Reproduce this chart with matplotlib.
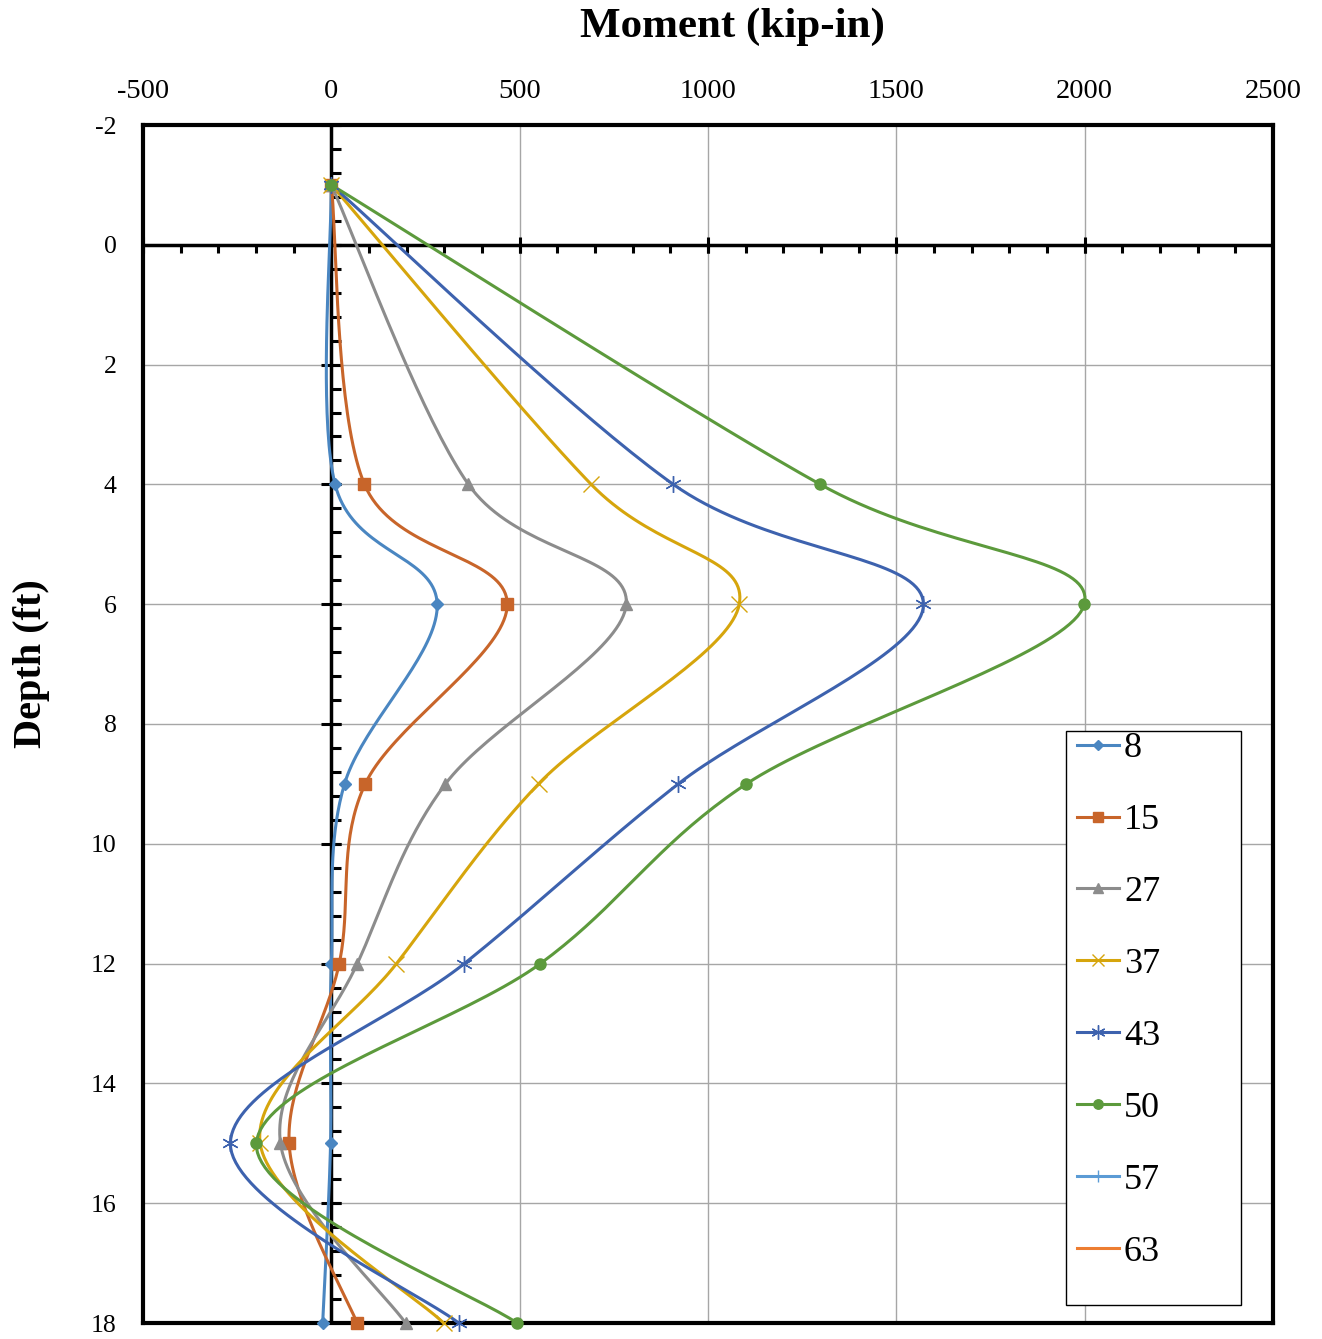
import matplotlib
matplotlib.use("Agg")
import matplotlib.pyplot as plt
from matplotlib.patches import Rectangle
import numpy as np

plt.rcParams['font.family'] = ['Liberation Serif', 'DejaVu Serif']
plt.rcParams['axes.unicode_minus'] = False

# depth (ft) of the data points
depth = [-1, 4, 6, 9, 12, 15, 18]

# moment (kip-in) for each load case
m8 = [0, 10, 281, 35, 0, -2, -23]
m15 = [0, 88, 467, 90, 21, -112, 68]
m27 = [0, 364, 783, 303, 69, -135, 197]
m37 = [0, 690, 1083, 550, 173, -189, 298]
m43 = [0, 908, 1572, 921, 353, -268, 338]
m50 = [0, 1298, 1999, 1102, 555, -199, 493]

labels = ['8', '15', '27', '37', '43', '50', '57', '63']
colors = ['#4A86C1', '#C8652A', '#8C8C8C', '#D6A50C', '#3D62AE', '#5C9A3C',
          '#5B9BD5', '#ED7D31']
markers = ['D', 's', '^', 'x', (6, 2, 0), 'o', '+', None]
msizes = [6, 8, 9, 11, 12, 8, 11, 0]


def smooth(x, y, n=40):
    # excel-like smoothed line: catmull-rom converted to cubic bezier
    p = np.column_stack([x, y]).astype(float)
    ext = np.vstack([p[0], p, p[-1]])
    out = []
    t = np.linspace(0, 1, n)[:, None]
    for i in range(len(p) - 1):
        p0 = ext[i + 1]
        p3 = ext[i + 2]
        c1 = p0 + (ext[i + 2] - ext[i]) / 6.0
        c2 = p3 - (ext[i + 3] - ext[i + 1]) / 6.0
        seg = ((1 - t) ** 3) * p0 + 3 * ((1 - t) ** 2) * t * c1 + 3 * (1 - t) * t ** 2 * c2 + t ** 3 * p3
        out.append(seg)
    s = np.vstack(out)
    return s[:, 0], s[:, 1]


fig = plt.figure(figsize=(13.22, 13.39), dpi=100)
ax = fig.add_axes([143 / 1322, 1 - 1323 / 1339, 1130 / 1322, 1198 / 1339])

ax.set_xlim(-500, 2500)
ax.set_ylim(18, -2)
ax.set_xticks(np.arange(-500, 2501, 500))
ax.set_yticks(np.arange(-2, 19, 2))
ax.xaxis.tick_top()
ax.tick_params(length=0)
ax.tick_params(axis='x', pad=15, labelsize=20.5)
ax.tick_params(axis='y', pad=19, labelsize=18.5)
ax.grid(True, color='#A6A6A6', lw=1.0, zorder=0)
for sp in ax.spines.values():
    sp.set_linewidth(3)
    sp.set_color('black')

# axis lines crossing at zero, with their tick marks
ax.axvline(0, color='black', lw=2.5, zorder=2)
ax.axhline(0, color='black', lw=2.5, zorder=2)
ymin = np.arange(-2, 18.01, 0.4)
ax.plot(np.zeros(len(ymin)), ymin, ls='none', marker=1, ms=7, mew=2.2, color='black', zorder=2)
ymaj = np.arange(-2, 18.01, 2)
ax.plot(np.zeros(len(ymaj)), ymaj, ls='none', marker='_', ms=14, mew=2.2, color='black', zorder=2)
xmin = np.arange(-500, 2501, 100)
ax.plot(xmin, np.zeros(len(xmin)), ls='none', marker=3, ms=6, mew=2.2, color='black', zorder=2)
xmaj = np.arange(-500, 2501, 500)
ax.plot(xmaj, np.zeros(len(xmaj)), ls='none', marker='|', ms=12, mew=2.2, color='black', zorder=2)

series = [m8, m15, m27, m37, m43, m50, None, None]
handles = []
for vals, lab, c, mk, ms in zip(series, labels, colors, markers, msizes):
    thin = mk in ('x', '+') or isinstance(mk, tuple)
    mew = 1.0 if thin else 1
    if vals is not None:
        sx, sy = smooth(vals, depth)
        ax.plot(sx, sy, color=c, lw=2.2, zorder=4, clip_on=False)
        ax.plot(vals, depth, ls='none', marker=mk, ms=ms, color=c, mec=c, mew=mew,
                zorder=5, clip_on=False)
    h, = ax.plot([], [], color=c, marker=mk, ms=ms * 0.85, mew=mew, lw=2.2, label=lab)
    handles.append(h)

# legend box
ax.add_patch(Rectangle((1066 / 1322, 1 - 1305 / 1339), 175 / 1322, 574 / 1339,
                       transform=fig.transFigure, facecolor='white',
                       edgecolor='black', lw=1.0, zorder=9, clip_on=False))
leg = ax.legend(handles=handles, loc='upper left',
                bbox_to_anchor=(1077 / 1322, 1 - 732 / 1339),
                bbox_transform=fig.transFigure, fontsize=26, frameon=False,
                handlelength=1.16, handletextpad=0.14, labelspacing=1.07,
                borderpad=0, borderaxespad=0)
leg.set_zorder(10)

fig.text(732 / 1322, 1 - 27 / 1339, 'Moment (kip-in)', fontsize=31, fontweight='bold',
         ha='center', va='center')
fig.text(32 / 1322, 1 - 664 / 1339, 'Depth (ft)', fontsize=29, fontweight='bold',
         ha='center', va='center', rotation=90)

fig.savefig('out.png', dpi=100)
